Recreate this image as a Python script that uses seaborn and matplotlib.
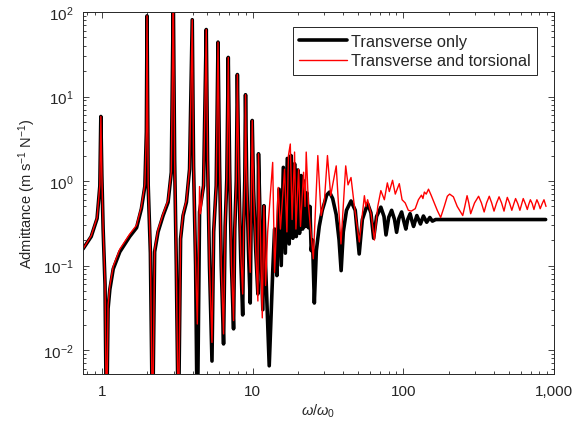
import numpy as np
import pandas as pd
import matplotlib
matplotlib.use("Agg")
import matplotlib.pyplot as plt
import seaborn as sns
from matplotlib.ticker import LogLocator, NullFormatter, LogFormatterSciNotation

# ---------------- data ----------------
# Transverse only (black)
black_w = [0.75, 0.85, 0.93, 0.97, 0.985, 1.00, 1.02, 1.05, 1.074, 1.10, 1.13, 1.19, 1.316, 1.53,
           1.70, 1.83, 1.93, 1.975, 1.995, 2.03, 2.10, 2.17, 2.24, 2.36, 2.55, 2.75, 2.89, 2.98,
           3.04, 3.12, 3.22, 3.33, 3.46, 3.64, 3.82, 3.98, 4.06, 4.19, 4.30, 4.45, 4.73, 4.93,
           5.03, 5.18, 5.38, 5.52, 5.74, 5.90, 6.04, 6.20, 6.42, 6.58, 6.75, 6.90, 7.05, 7.25,
           7.48, 7.62, 7.80, 7.93, 8.10, 8.35, 8.60, 8.72, 8.88, 8.98, 9.15, 9.40, 9.65, 9.80,
           9.95, 10.15, 10.5, 10.85, 10.95, 11.2, 11.7, 11.9, 12.2, 12.9, 13.6, 14.0, 14.5, 15.0,
           15.5, 16.0, 16.5, 17.0, 17.5, 18.0, 18.5, 19.0, 19.5, 20.0, 20.5, 21.0, 21.5, 22.0,
           22.5, 23.0, 23.5, 24.0, 24.5, 25.0, 25.7, 26.5, 27.7, 29.0, 30.0, 31.0, 32.4, 34.0,
           35.9, 37.5, 38.7, 40.0, 42.0, 45.0, 48.0, 51.0, 53.5, 58.0, 61.0, 63.6, 66.5, 71.0,
           74.5, 76.8, 80.0, 83.7, 87.5, 90.3, 93.5, 97.5, 101, 104, 107, 111, 114, 117, 123,
           130, 136, 143, 150, 156, 164, 200, 880]
black_y = [0.157, 0.22, 0.36, 0.87, 5.8, 1.2, 0.27, 0.06, 0.001, 0.031, 0.052, 0.091, 0.145, 0.22,
           0.28, 0.47, 0.87, 3.8, 90, 0.9, 0.14, 0.001, 0.145, 0.25, 0.39, 0.56, 1.27, 150,
           1.8, 0.1, 0.001, 0.206, 0.39, 0.56, 1.38, 81, 1.5, 0.1, 0.001, 0.43, 0.88, 62,
           1.8, 0.1, 0.0074, 0.25, 0.88, 44, 1.5, 0.1, 0.0118, 0.29, 1.06, 29, 1.3, 0.1,
           0.0178, 0.27, 1.0, 18.2, 1.3, 0.12, 0.026, 0.27, 1.0, 10.5, 1.0, 0.15, 0.036, 0.41,
           5.2, 0.8, 0.15, 0.046, 2.1, 0.4, 0.03, 0.51, 0.1, 0.0065, 0.083, 0.27, 0.076, 0.80,
           0.10, 1.45, 0.14, 1.85, 0.18, 2.0, 0.21, 1.6, 0.22, 1.35, 0.24, 1.16, 0.27, 1.0,
           0.29, 0.72, 0.28, 0.5, 0.15, 0.2, 0.036, 0.15, 0.29, 0.45, 0.55, 0.68, 0.74, 0.62,
           0.4, 0.2, 0.087, 0.25, 0.45, 0.58, 0.45, 0.137, 0.35, 0.54, 0.42, 0.21, 0.38, 0.49,
           0.38, 0.23, 0.37, 0.45, 0.35, 0.247, 0.36, 0.43, 0.33, 0.27, 0.35, 0.41, 0.34, 0.29, 0.39,
           0.31, 0.385, 0.325, 0.37, 0.335, 0.35, 0.35, 0.35]

# Transverse and torsional (red)
red_w = [0.75, 0.85, 0.93, 0.97, 0.985, 1.00, 1.02, 1.05, 1.074, 1.10, 1.13, 1.19, 1.316, 1.53,
         1.70, 1.83, 1.93, 1.975, 1.995, 2.03, 2.10, 2.17, 2.24, 2.36, 2.55, 2.75, 2.89, 2.98,
         3.04, 3.12, 3.22, 3.33, 3.46, 3.64, 3.82, 3.98, 4.06, 4.19, 4.30, 4.45, 4.52, 4.73, 4.93,
         5.03, 5.18, 5.38, 5.52, 5.74, 5.90, 6.04, 6.20, 6.42, 6.58, 6.75, 6.90, 7.05, 7.25,
         7.48, 7.62, 7.80, 7.93, 8.10, 8.35, 8.60, 8.72, 8.88, 8.98, 9.10, 9.15, 9.40, 9.65, 9.80,
         9.95, 10.15, 10.5, 10.85, 10.95, 11.2, 11.6, 11.9, 12.2, 12.6, 13.6, 14.0, 14.8, 15.3,
         16.3, 16.9, 17.3, 17.8, 18.3, 19.0, 19.4, 20.2, 20.8, 21.8, 22.3, 22.7, 23.5, 24.6,
         25.3, 27.1, 28.5, 30.0, 31.4, 33.0, 34.0, 35.9, 37.0, 38.6, 41.5, 43.0, 45.0, 47.4,
         51.1, 53.5, 55.2, 56.5, 58.0, 61.3, 64.3, 67.7, 71.0, 74.9, 78.4, 80.8, 84.9, 88.5,
         94.1, 98.2, 103, 108, 113, 120, 126, 132, 135, 138, 142, 147, 153, 160, 168, 177,
         187, 196, 203, 215, 228, 248, 256, 265, 272, 280, 297, 316, 330, 344, 357, 372,
         386, 400, 416, 432, 449, 466, 478, 490, 507, 525, 540, 556, 575, 594, 610, 625,
         645, 665, 680, 697, 717, 736, 752, 770, 790, 810, 835, 858, 885]
red_y = [0.157, 0.225, 0.37, 0.9, 5.8, 1.2, 0.28, 0.062, 0.001, 0.034, 0.057, 0.098, 0.156, 0.235,
         0.30, 0.50, 0.92, 3.8, 90, 0.95, 0.15, 0.001, 0.155, 0.265, 0.41, 0.59, 1.3, 150,
         1.8, 0.1, 0.001, 0.215, 0.41, 0.59, 1.4, 81, 1.5, 0.1, 0.0203, 0.86, 0.41, 0.9, 62,
         1.8, 0.1, 0.0123, 0.26, 0.9, 44, 1.5, 0.1, 0.0155, 0.3, 1.08, 29, 1.3, 0.1,
         0.0223, 0.28, 1.0, 18.2, 1.3, 0.14, 0.046, 0.28, 1.0, 10.5, 1.5, 1.1, 0.2, 0.083, 0.45,
         5.2, 0.8, 0.15, 0.038, 2.1, 0.4, 0.024, 0.51, 0.058, 0.25, 1.66, 0.083, 0.84, 0.27,
         1.38, 0.25, 2.0, 2.74, 0.35, 2.2, 0.27, 1.38, 0.29, 1.27, 0.5, 2.2, 0.51, 0.21,
         0.12, 2.0, 0.39, 0.6, 2.0, 0.67, 0.9, 1.51, 0.6, 0.18, 1.51, 0.9, 1.1, 0.5,
         0.19, 0.4, 0.67, 0.5, 0.6, 0.40, 0.20, 0.50, 0.77, 0.60, 0.95, 0.75, 1.02, 0.7,
         0.93, 0.6, 0.55, 0.45, 0.44, 0.47, 0.6, 0.68, 0.62, 0.74, 0.70, 0.80, 0.68, 0.56, 0.45, 0.37,
         0.5, 0.66, 0.70, 0.65, 0.50, 0.39, 0.5, 0.67, 0.55, 0.41, 0.55, 0.66, 0.55, 0.43, 0.55, 0.66,
         0.55, 0.44, 0.55, 0.65, 0.55, 0.44, 0.54, 0.64, 0.55, 0.45, 0.53, 0.62, 0.54, 0.45, 0.53, 0.62,
         0.54, 0.46, 0.53, 0.60, 0.54, 0.46, 0.53, 0.60, 0.54, 0.47, 0.54, 0.60, 0.50]

labels = ["Transverse only", "Transverse and torsional"]
x_tick_values = [1, 10, 100, 1000]
x_tick_labels = ["1", "10", "100", "1,000"]
y_tick_values = [1e-2, 1e-1, 1e0, 1e1, 1e2]

# ---------------- plotting ----------------
sns.set_theme(style="ticks")
plt.rcParams["font.family"] = ["Liberation Sans", "DejaVu Sans"]
plt.rcParams["mathtext.fontset"] = "custom"
plt.rcParams["mathtext.rm"] = "Liberation Sans"
plt.rcParams["mathtext.it"] = "Liberation Sans:italic"
plt.rcParams["mathtext.default"] = "regular"

fig = plt.figure(figsize=(5.85, 4.39), dpi=100)
ax = fig.add_axes([83 / 585, 1 - 375 / 439, (554 - 83) / 585, (375 - 13) / 439])
ax.set_xscale("log")
ax.set_yscale("log")

df_b = pd.DataFrame({"w": black_w, "Y": black_y})
df_r = pd.DataFrame({"w": red_w, "Y": red_y})
sns.lineplot(data=df_b, x="w", y="Y", color="black", lw=2.6, estimator=None, sort=False,
             ax=ax, label=labels[0])
sns.lineplot(data=df_r, x="w", y="Y", color="#ff0000", lw=1.0, estimator=None, sort=False,
             ax=ax, label=labels[1])

ax.set_xlim(0.75, 1000)
ax.set_ylim(0.0052, 100)
ax.set_xticks(x_tick_values)
ax.set_xticklabels(x_tick_labels)
ax.xaxis.set_minor_locator(LogLocator(base=10, subs=np.arange(2, 10)))
ax.xaxis.set_minor_formatter(NullFormatter())
ax.set_yticks(y_tick_values)
ax.yaxis.set_major_formatter(LogFormatterSciNotation())
ax.yaxis.set_minor_locator(LogLocator(base=10, subs=np.arange(2, 10)))
ax.yaxis.set_minor_formatter(NullFormatter())

ax.tick_params(which="both", direction="in", top=True, right=True, colors="#262626",
               labelcolor="#262626", labelsize=11, width=0.6)
ax.tick_params(which="major", length=4.5, pad=7)
ax.tick_params(which="minor", length=2.5)
for s in ax.spines.values():
    s.set_visible(True)
    s.set_color("#262626")
    s.set_linewidth(0.7)

ax.set_xlabel(r"$\mathit{\omega}/\mathit{\omega}_0$", fontsize=10.5, color="#262626", labelpad=3)
ax.set_ylabel(r"Admittance (m s$^{-1}$ N$^{-1}$)", fontsize=10.5, color="#262626", labelpad=3)

leg = ax.legend(loc="upper right", bbox_to_anchor=(0.964, 0.9586), borderaxespad=0,
                frameon=True, fancybox=False, fontsize=11.8, handlelength=2.9,
                handletextpad=0.25, borderpad=0.4, labelspacing=0.3)
leg.get_frame().set_edgecolor("#262626")
leg.get_frame().set_linewidth(0.7)
leg.get_frame().set_alpha(1)

fig.savefig("out.png", dpi=100)
